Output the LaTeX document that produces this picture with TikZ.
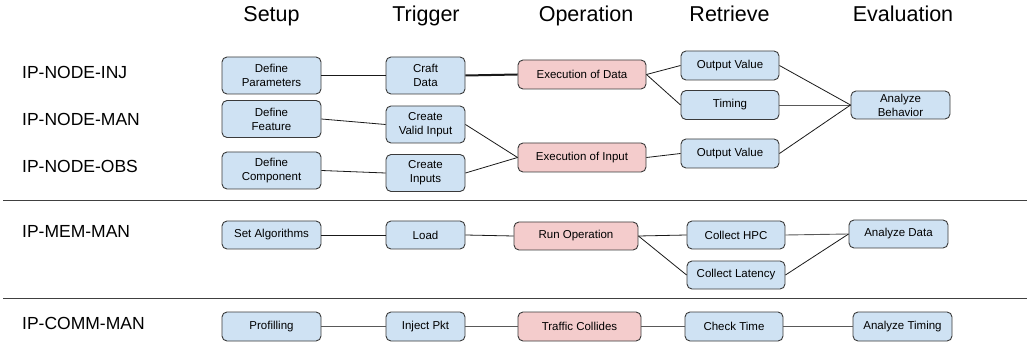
\documentclass[tikz,border=0pt]{standalone}
\usepackage{fontspec}
\setmainfont{Liberation Sans}

\definecolor{stepblue}{HTML}{CFE2F3}
\definecolor{stepred}{HTML}{F4CCCC}
\definecolor{boxline}{HTML}{3A3A3A}

\begin{document}
\begin{tikzpicture}[x=1pt,y=-1pt]
\tikzstyle{every node}=[font=\fontsize{11.5}{14}\selectfont]
\tikzstyle{blk}=[draw=boxline, line width=0.9pt, rounded corners=5pt, fill=stepblue, align=center, inner sep=0pt, minimum height=29pt]
\tikzstyle{op}=[blk, fill=stepred]
\tikzstyle{link}=[draw=black!90, line width=0.8pt]
\tikzstyle{glink}=[draw=black!65, line width=0.9pt]

\useasboundingbox (0,0) rectangle (1027,347);

% Column headings
\foreach \x/\t/\n in {271.5/Setup/su, 426/Trigger/tr, 586/Operation/op, 729.5/Retrieve/re, 903/Evaluation/ev}
  \node[anchor=base, font=\fontsize{21.5}{24}\selectfont] (head\n) at (\x,22) {\t};

% Row labels
\foreach \y/\t/\n in {79/IP-NODE-INJ/inj, 126/IP-NODE-MAN/man, 173/IP-NODE-OBS/obs, 238/IP-MEM-MAN/mem, 329/IP-COMM-MAN/comm}
  \node[anchor=base west, inner sep=0pt, font=\fontsize{17.5}{20}\selectfont] (lab\n) at (22,\y) {\t};

% Separators
\coordinate (sepa0) at (3,200.5);  \coordinate (sepa1) at (1027,200.5);
\coordinate (sepb0) at (3,298.5);  \coordinate (sepb1) at (1027,298.5);
\draw[black!75, line width=1.1pt] (sepa0) -- (sepa1);
\draw[black!75, line width=1.1pt] (sepb0) -- (sepb1);

% Group 1: IP-NODE
\node[blk, minimum width=99pt, minimum height=37pt] (dparam) at (271.5,75.5) {Define\\Parameters};
\node[blk, minimum width=99pt, minimum height=37pt] (dfeat) at (271.5,119) {Define\\Feature};
\node[blk, minimum width=99pt, minimum height=37pt] (dcomp) at (271.5,170.5) {Define\\Component};
\node[blk, minimum width=79pt, minimum height=37pt] (craft) at (425.5,75.5) {Craft\\Data};
\node[blk, minimum width=79pt, minimum height=37pt] (valid) at (425.5,124.5) {Create\\Valid Input};
\node[blk, minimum width=79pt, minimum height=37pt] (cinputs) at (425.5,173) {Create\\Inputs};
\node[op, minimum width=128pt] (execdata) at (582,74.5) {Execution of Data};
\node[op, minimum width=128pt] (execinput) at (582,157.5) {Execution of Input};
\node[blk, minimum width=98pt] (outa) at (730,65.5) {Output Value};
\node[blk, minimum width=98pt] (timing) at (730,105) {Timing};
\node[blk, minimum width=98pt] (outb) at (730,153.5) {Output Value};
\node[blk, minimum width=99pt, minimum height=28pt] (behav) at (900.5,105) {Analyze\\Behavior};

\draw[link] (dparam.east) -- (craft.west);
\draw[link, line width=2pt] (craft.east) -- (execdata.west);
\draw[link] (dfeat.east) -- (valid.west);
\draw[link] (dcomp.east) -- (cinputs.west);
\draw[link] (valid.east) -- (execinput.west);
\draw[link] (cinputs.east) -- (execinput.west);
\draw[link] (execdata.east) -- (outa.west);
\draw[link] (execdata.east) -- (timing.west);
\draw[link] (execinput.east) -- (outb.west);
\draw[link] (outa.east) -- (behav.west);
\draw[glink] (timing.east) -- (behav.west);
\draw[link] (outb.east) -- (behav.west);

% Group 2: IP-MEM-MAN
\node[blk, minimum width=99pt, minimum height=28pt] (setalg) at (271.5,235) {Set Algorithms};
\node[blk, minimum width=79pt, minimum height=28pt] (load) at (425.5,235) {Load};
\node[op, minimum width=124pt, minimum height=28pt] (runop) at (576,236) {Run Operation};
\node[blk, minimum width=98pt, minimum height=28pt] (hpc) at (736,235) {Collect HPC};
\node[blk, minimum width=98pt, minimum height=28pt] (latency) at (736,275) {Collect Latency};
\node[blk, minimum width=99pt, minimum height=28pt] (adata) at (898.5,234) {Analyze Data};

\draw[link] (setalg) -- (load);
\draw[link] (load.east) -- (runop.west);
\draw[link] (runop.east) -- (hpc.west);
\draw[link] (runop.east) -- (latency.west);
\draw[glink] (hpc.east) -- (adata.west);
\draw[link] (latency.east) -- (adata.west);

% Group 3: IP-COMM-MAN
\node[blk, minimum width=99pt] (profil) at (271.5,326.5) {Profilling};
\node[blk, minimum width=79pt] (inject) at (425.5,326.5) {Inject Pkt};
\node[op, minimum width=123pt] (traffic) at (579.5,326.5) {Traffic Collides};
\node[blk, minimum width=98pt] (checkt) at (734,326.5) {Check Time};
\node[blk, minimum width=99pt] (atiming) at (902.5,326.5) {Analyze Timing};

\draw[glink] (profil) -- (inject);
\draw[glink] (inject) -- (traffic);
\draw[glink] (traffic) -- (checkt);
\draw[glink] (checkt) -- (atiming);
\end{tikzpicture}
\end{document}
